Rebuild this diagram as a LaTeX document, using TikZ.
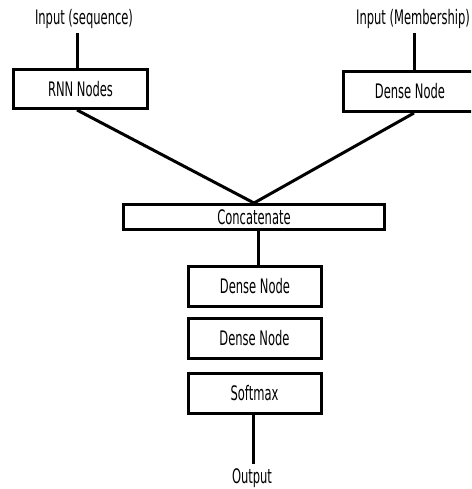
\documentclass[tikz,border=0pt]{standalone}
\usepackage{fontspec}
\setmainfont{DejaVu Sans Condensed}[FakeStretch=0.64]
\begin{document}
\begin{tikzpicture}[x=1pt,y=-1pt,
    layer/.style={draw,line width=3pt,minimum width=133pt,minimum height=40pt,inner sep=0pt,font=\fontsize{20}{22}\selectfont},
    iotext/.style={inner sep=4pt,font=\fontsize{20}{22}\selectfont},
    link/.style={line width=3pt}]
    \useasboundingbox (0,0) rectangle (471,489);
    \clip (0,0) rectangle (471,489);
    \node[iotext] (inseq) at (84,19) {Input (sequence)};
    \node[layer,minimum width=134pt,minimum height=39pt] (rnn) at (80.5,89) {RNN Nodes};
    \node[iotext] (inmem) at (413,19) {Input (Membership)};
    \node[layer,minimum width=134pt] (dense0) at (410,91.5) {Dense Node};
    \node[layer,minimum width=261pt,minimum height=25pt] (concat) at (254,217) {Concatenate};
    \node[layer] (dense1) at (255,286.5) {Dense Node};
    \node[layer] (dense2) at (254.5,338.5) {Dense Node};
    \node[layer] (softmax) at (254.5,393.5) {Softmax};
    \node[iotext] (out) at (252,478) {Output};
    \draw[link] (rnn.north -| 77,0) -- (inseq.south -| 77,0);
    \draw[link] (inmem.south -| 414,0) -- (dense0.north -| 414,0);
    \draw[link] (rnn.south -| 77,0) -- (concat.north);
    \draw[link] (dense0.south -| 414,0) -- (concat.north);
    \draw[link] (concat.south -| 258,0) -- (dense1.north -| 258,0);
    \draw[link] (softmax.south -| 253,0) -- (out.north -| 253,0);
\end{tikzpicture}
\end{document}
